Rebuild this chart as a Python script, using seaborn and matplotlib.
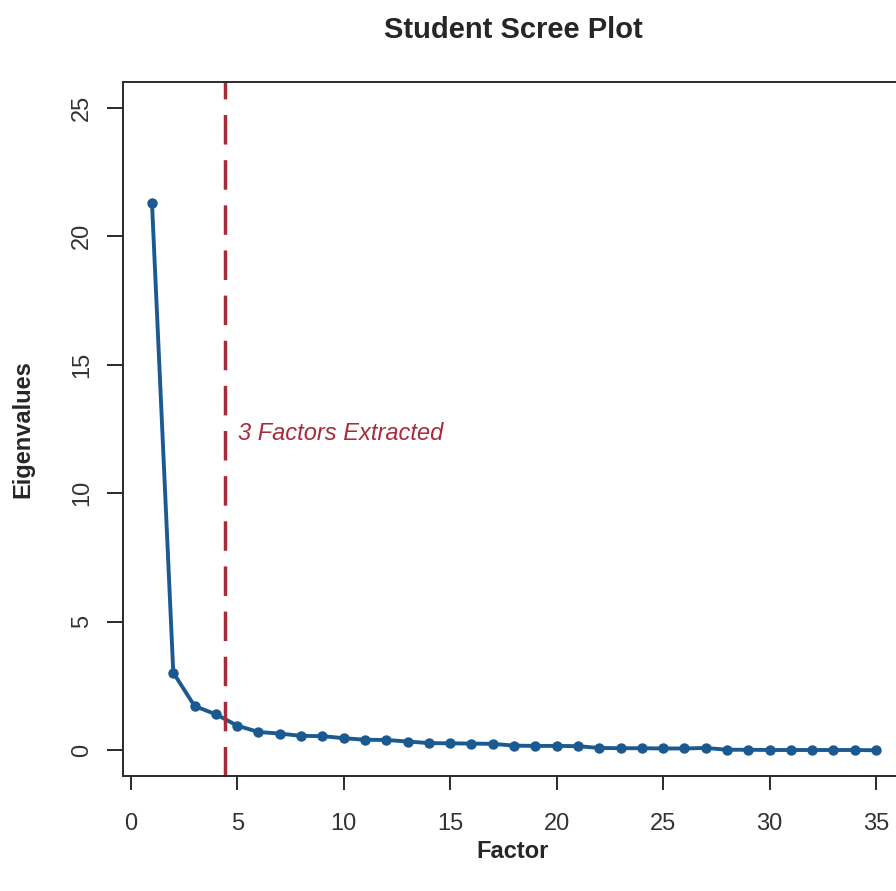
import numpy as np
import pandas as pd
import matplotlib
matplotlib.use("Agg")
import matplotlib.pyplot as plt
import seaborn as sns

# eigenvalues, factors 1..35
factors = list(range(1, 36))
eigenvalues = [21.3, 3.02, 1.72, 1.40, 0.96, 0.71, 0.65, 0.56, 0.55, 0.47,
               0.41, 0.40, 0.34, 0.28, 0.27, 0.26, 0.25, 0.18, 0.17, 0.17,
               0.16, 0.09, 0.08, 0.08, 0.07, 0.07, 0.09, 0.02, 0.02, 0.01,
               0.01, 0.01, 0.01, 0.01, 0.00]
cutoff = 4.45
note = "3 Factors Extracted"
x_ticks = [0, 5, 10, 15, 20, 25, 30, 35]
y_ticks = [0, 5, 10, 15, 20, 25]

df = pd.DataFrame({'Factor': factors, 'Eigenvalues': eigenvalues})

sns.set_style("ticks")
plt.rcParams['font.family'] = ['Liberation Sans', 'DejaVu Sans']

blue = '#1b5a91'
red = '#a62b3b'
ink = '#2a2a2a'

fig = plt.figure(figsize=(8.96, 8.91), dpi=100)
ax = fig.add_axes([0.1373, 0.1291, 0.8728, 0.7789])

sns.lineplot(
    data=df,
    x='Factor',
    y='Eigenvalues',
    marker='o',
    color=blue,
    linewidth=2.8,
    markersize=7.5,
    markeredgewidth=0,
    ax=ax
)

ax.axvline(cutoff, color=red, lw=2.5, dashes=(8.5, 4.5))
ax.text(5.05, 12.33, note, style='italic', color=red,
        fontsize=17, ha='left', va='center')

ax.set_xlim(-0.36, 36.36)
ax.set_ylim(-1, 26)
ax.set_xticks(x_ticks)
ax.set_yticks(y_ticks)
ax.set_xlabel('')
ax.set_ylabel('')

for s in ax.spines.values():
    s.set_visible(True)
    s.set_color(ink)
    s.set_linewidth(1.4)

ax.tick_params(axis='x', length=10, width=1.4, color=ink,
               labelsize=17, labelcolor='#333333', pad=17)
ax.tick_params(axis='y', length=11.5, width=1.4, color=ink,
               labelsize=17, labelcolor='#333333', pad=10)
for lab in ax.get_yticklabels():
    lab.set_rotation(90)
    lab.set_va('center')

fig.text(513 / 896, 1 - 30 / 891, 'Student Scree Plot',
         ha='center', va='center', fontweight='bold', fontsize=21)
fig.text(513 / 896, 1 - 852 / 891, 'Factor',
         ha='center', va='center', fontweight='bold', fontsize=17)
fig.text(23 / 896, 1 - 429 / 891, 'Eigenvalues', rotation=90,
         ha='center', va='center', fontweight='bold', fontsize=17)

fig.savefig('out.png', dpi=100)
